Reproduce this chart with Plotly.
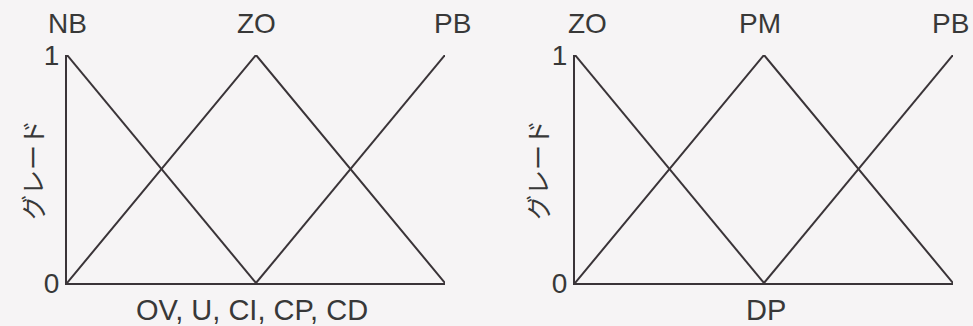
import plotly.graph_objects as go

# Left panel: inputs OV, U, CI, CP, CD (normalised -1..1)
left_x = [-1, 0, 1]
left_labels = ["NB", "ZO", "PB"]
left_nb = [1, 0, None]
left_zo = [0, 1, 0]
left_pb = [None, 0, 1]

# Right panel: output DP (normalised 0..1)
right_x = [0, 0.5, 1]
right_labels = ["ZO", "PM", "PB"]
right_zo = [1, 0, None]
right_pm = [0, 1, 0]
right_pb = [None, 0, 1]

y_ticks = [0, 1]
y_title = "グレード"
left_xtitle = "OV, U, CI, CP, CD"
right_xtitle = "DP"

LINE = "#3a3438"
TEXT = "#383838"
BG = "#f6f4f5"
FONT = "Liberation Sans, Arial, sans-serif"
CJK = "Noto Sans CJK JP"
FS = 28

fig = go.Figure()

def add_set(xs, series, xa, ya):
    for ys in series:
        pts = [(x, y) for x, y in zip(xs, ys) if y is not None]
        fig.add_trace(go.Scatter(
            x=[p[0] for p in pts], y=[p[1] for p in pts],
            mode="lines", line=dict(color=LINE, width=2),
            xaxis=xa, yaxis=ya, showlegend=False, cliponaxis=False,
            hoverinfo="skip"))

add_set(left_x, [left_nb, left_zo, left_pb], "x", "y")
add_set(right_x, [right_zo, right_pm, right_pb], "x2", "y2")

W, H = 973, 326
ydom = [1 - 283 / H, 1 - 55 / H]

axis_common = dict(showgrid=False, zeroline=False, showline=True,
                   linecolor=LINE, linewidth=2, ticks="", mirror=False,
                   automargin=False)

fig.update_layout(
    width=W, height=H, autosize=False,
    margin=dict(l=0, r=0, t=0, b=0, pad=0),
    paper_bgcolor=BG, plot_bgcolor=BG,
    font=dict(family=FONT, color=TEXT, size=FS),
    xaxis=dict(domain=[67 / W, 445 / W], range=[left_x[0], left_x[-1]],
               showticklabels=False, anchor="y", **axis_common),
    yaxis=dict(domain=ydom, range=[0, 1], tickvals=y_ticks,
               ticktext=[str(t) for t in y_ticks], anchor="x",
               tickfont=dict(size=FS, color=TEXT), **axis_common),
    xaxis2=dict(domain=[575 / W, 953 / W], range=[right_x[0], right_x[-1]],
                showticklabels=False, anchor="y2", **axis_common),
    yaxis2=dict(domain=ydom, range=[0, 1], tickvals=y_ticks,
                ticktext=[str(t) for t in y_ticks], anchor="x2",
                tickfont=dict(size=FS, color=TEXT), **axis_common),
)

ann = []
top_y = 1 - 23 / H
left_shift = [0, 0, 7]
right_shift = [12, -4, -3]
for x, lab, s in zip(left_x, left_labels, left_shift):
    ann.append(dict(x=x, y=top_y, xref="x", yref="paper", text=lab,
                    xanchor="center", yanchor="middle",
                    showarrow=False, xshift=s, font=dict(size=FS, color=TEXT)))
for x, lab, s in zip(right_x, right_labels, right_shift):
    ann.append(dict(x=x, y=top_y, xref="x2", yref="paper", text=lab,
                    xanchor="center", yanchor="middle",
                    showarrow=False, xshift=s, font=dict(size=FS, color=TEXT)))
# x titles
bot_y = 1 - 310 / H
ann.append(dict(x=0, y=bot_y, xref="x", yref="paper", text=left_xtitle,
                xanchor="center", yanchor="middle",
                showarrow=False, xshift=-4, font=dict(size=29, color=TEXT)))
ann.append(dict(x=0.5, y=bot_y, xref="x2", yref="paper", text=right_xtitle,
                xanchor="center", yanchor="middle",
                showarrow=False, xshift=2, font=dict(size=29, color=TEXT)))
# y titles
for xp in [32, 537]:
    ann.append(dict(x=xp / W, y=1 - 170 / H, xref="paper", yref="paper",
                    text=y_title, textangle=-90, showarrow=False,
                    xanchor="center", yanchor="middle",
                    font=dict(size=25, color=TEXT, family=CJK)))
fig.update_layout(annotations=ann)

fig.write_html("out.html", config={"displayModeBar": False},
               post_script="document.body.style.margin='0';"
                           "document.body.style.overflow='hidden';")
